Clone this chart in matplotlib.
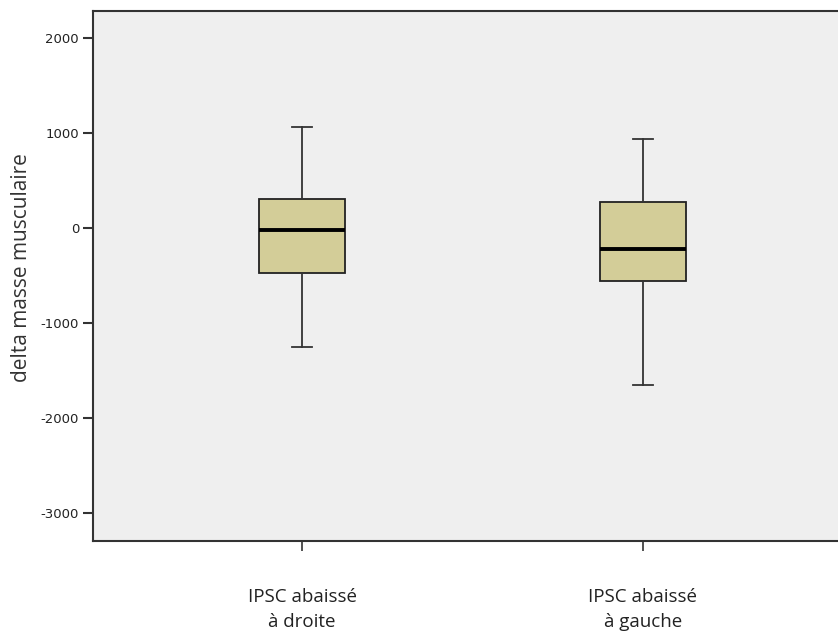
import matplotlib.pyplot as plt

# box summary per group: whisker low, Q1, median, Q3, whisker high
groupes = ["IPSC abaissé\nà droite", "IPSC abaissé\nà gauche"]
whis_bas = [-1255, -1651]
q1 = [-470, -560]
mediane = [-18, -224]
q3 = [302, 273]
whis_haut = [1059, 933]
yticks = [2000, 1000, 0, -1000, -2000, -3000]

stats = []
for i, nom in enumerate(groupes):
    stats.append({"label": nom, "whislo": whis_bas[i], "q1": q1[i], "med": mediane[i],
                  "q3": q3[i], "whishi": whis_haut[i], "fliers": []})

fig = plt.figure(figsize=(8.38, 6.39), dpi=100)
ax = fig.add_axes([93/838, 1 - 541/639, 1 - 93/838, 530/639])
ax.set_facecolor("#efefef")

ax.bxp(stats, positions=[1, 2], widths=0.25, capwidths=0.058, patch_artist=True,
       showfliers=False,
       boxprops=dict(facecolor="#d3cd98", edgecolor="#222222", linewidth=1.3),
       medianprops=dict(color="black", linewidth=2.8),
       whiskerprops=dict(color="#333333", linewidth=1.3),
       capprops=dict(color="#333333", linewidth=1.3))

ax.set_xlim(0.387, 2.572)
ax.set_ylim(-3291, 2282)
ax.set_yticks(yticks)
ax.set_yticklabels([str(v) for v in yticks], fontsize=9.5, color="#222222")
ax.set_xticks([1, 2])
ax.set_xticklabels(groupes, fontsize=13.5, family="Open Sans", color="#222222",
                   linespacing=1.45)
ax.tick_params(axis="y", length=7, width=1.5, color="#333333", pad=3)
ax.tick_params(axis="x", length=7, width=1.2, color="#333333", pad=27)

for side in ["left", "bottom", "top"]:
    ax.spines[side].set_linewidth(1.5)
    ax.spines[side].set_color("#333333")
ax.spines["right"].set_visible(False)

ax.set_ylabel("delta masse musculaire", fontsize=15, family="Open Sans",
              color="#333333")
ax.yaxis.set_label_coords(-0.082, 0.515)

fig.savefig("out.png", dpi=100)
